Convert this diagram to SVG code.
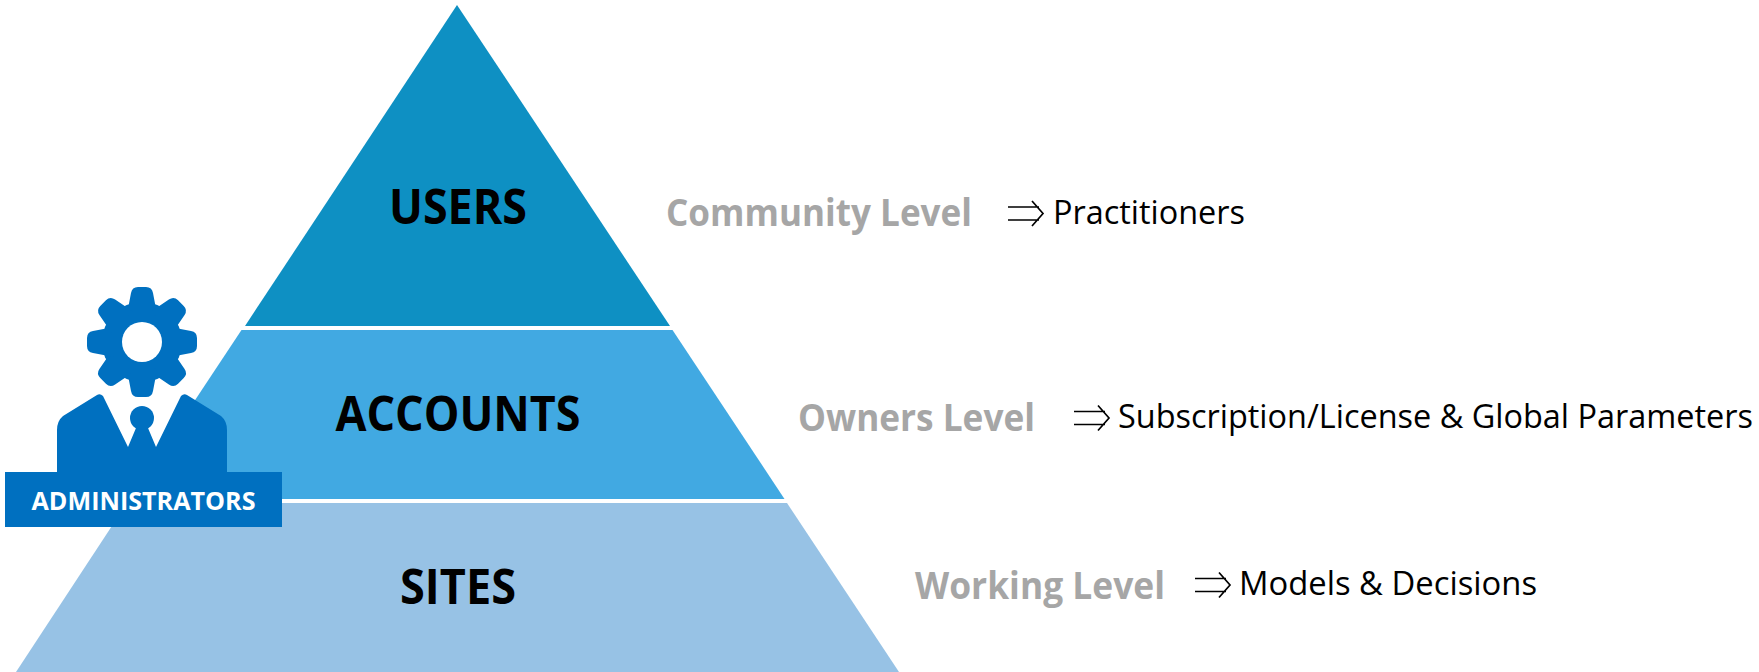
<svg xmlns="http://www.w3.org/2000/svg" width="1759" height="672" viewBox="0 0 1759 672">
<style>
text{font-family:"Open Sans","Noto Sans","Liberation Sans",sans-serif}
.tier{font-weight:700;font-size:49px;fill:#000;text-anchor:middle}
.lvl{font-weight:700;font-size:38px;fill:#a6a6a6}
.desc{font-size:32px;fill:#000}
.arr{fill:none;stroke:#000;stroke-width:1.7}
.adm{fill:#0070c0}
</style>
<defs>
<g id="arrow"><path class="arr" d="M0 -6.500H31M0 6.500H31M24 -12.500L35 0L24 12.500"/></g>
<path id="tooth" d="M-15 -28L-11 -49Q-10 -55 -4 -55H4Q10 -55 11 -49L15 -28Z"/>
</defs>
<g id="node-users"><polygon points="457,5 670,326 245,326" fill="#0e90c3"/><text class="tier" x="458" y="224" textLength="138" lengthAdjust="spacingAndGlyphs">USERS</text></g>
<g id="node-accounts"><polygon points="241.500,330 672.500,330 784.500,499 129.500,499" fill="#41a9e2"/><text class="tier" x="458" y="431" textLength="245" lengthAdjust="spacingAndGlyphs">ACCOUNTS</text></g>
<g id="node-sites"><polygon points="127,503 787,503 899,672 16,672" fill="#97c2e5"/><text class="tier" x="458" y="604" textLength="116" lengthAdjust="spacingAndGlyphs">SITES</text></g>
<g id="node-administrators">
<g class="adm">
<g transform="translate(142,342)">
<circle r="40"/>
<use href="#tooth"/><use href="#tooth" transform="rotate(45)"/><use href="#tooth" transform="rotate(90)"/><use href="#tooth" transform="rotate(135)"/><use href="#tooth" transform="rotate(180)"/><use href="#tooth" transform="rotate(225)"/><use href="#tooth" transform="rotate(270)"/><use href="#tooth" transform="rotate(315)"/>
<circle r="20" fill="#fff"/>
</g>
<path d="M97 395Q100 393 103 396L128 447L136 428L148 428L156 447L181 396Q184 393 187 395L221 416Q227 421 227 430V472H57V430Q57 421 63 416Z"/>
<circle cx="142" cy="418" r="12"/>
<rect x="5" y="472" width="277" height="55"/>
</g>
<text x="143.500" y="510" font-size="25" font-weight="700" fill="#fff" text-anchor="middle" textLength="224" lengthAdjust="spacingAndGlyphs">ADMINISTRATORS</text>
</g>
<g id="labels">
<text class="lvl" x="666" y="226" textLength="306" lengthAdjust="spacingAndGlyphs">Community Level</text>
<text class="desc" x="1053" y="224" textLength="192" lengthAdjust="spacingAndGlyphs">Practitioners</text>
<text class="lvl" x="798" y="431" textLength="237" lengthAdjust="spacingAndGlyphs">Owners Level</text>
<text class="desc" x="1118" y="428" textLength="635" lengthAdjust="spacingAndGlyphs">Subscription/License &amp; Global Parameters</text>
<text class="lvl" x="915" y="599" textLength="250" lengthAdjust="spacingAndGlyphs">Working Level</text>
<text class="desc" x="1239" y="595" textLength="298" lengthAdjust="spacingAndGlyphs">Models &amp; Decisions</text>
</g>
<g id="connectors">
<use href="#arrow" x="1008" y="213.500"/>
<use href="#arrow" x="1074" y="418"/>
<use href="#arrow" x="1195" y="585"/>
</g>
</svg>
